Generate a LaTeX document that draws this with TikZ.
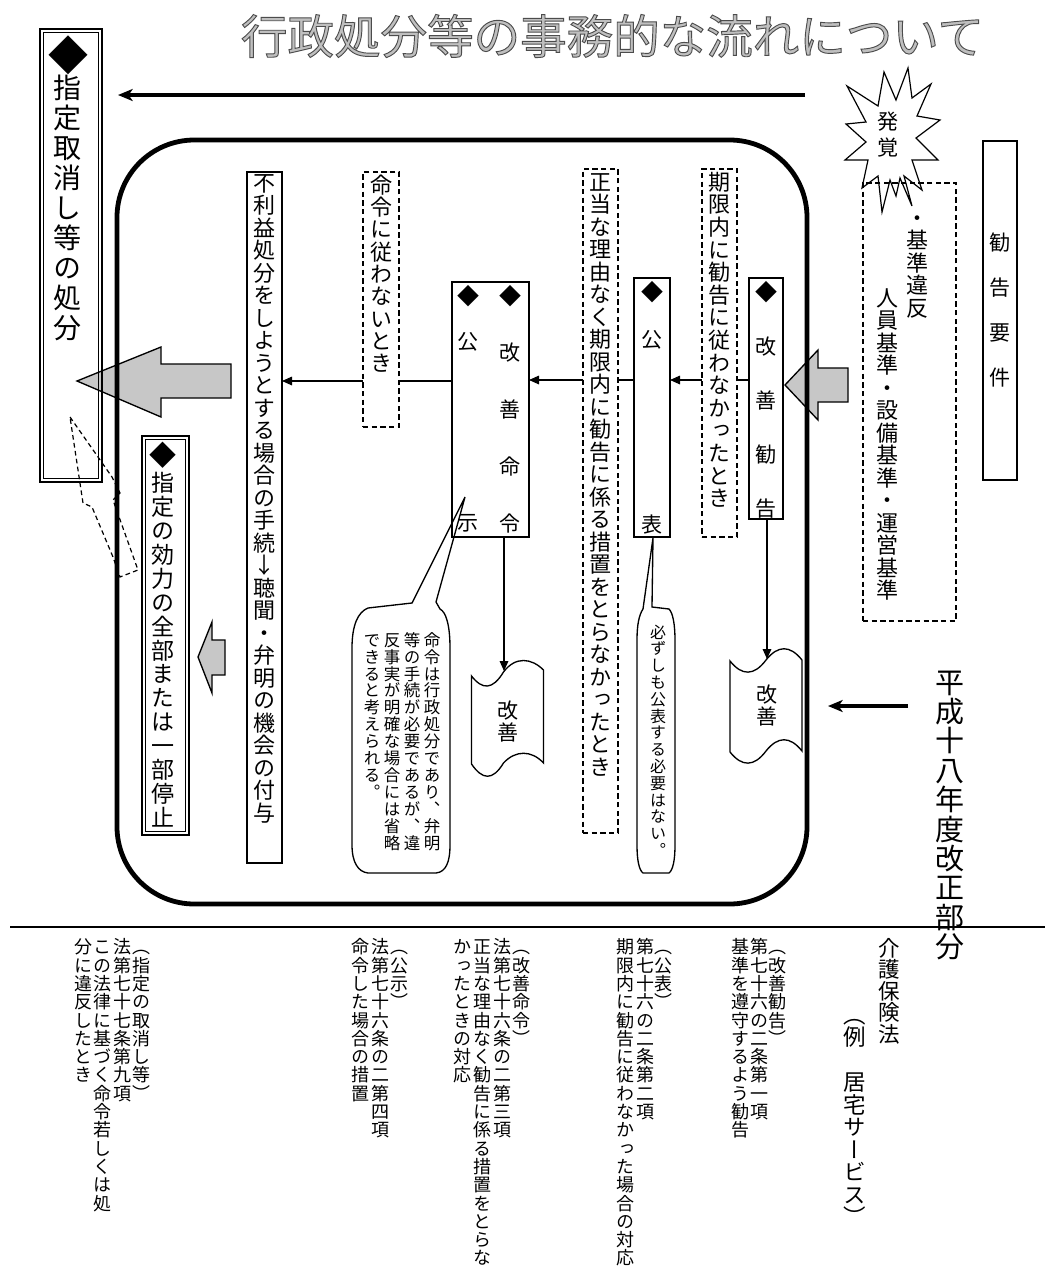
\documentclass[tikz,border=0pt]{standalone}
\usepackage{fontspec}
\usetikzlibrary{arrows.meta,fit}
\newfontfamily\jpv[RawFeature=+vert]{Noto Sans CJK JP}
\newfontfamily\jph{Noto Sans CJK JP}
\newlength\vtsp
\makeatletter
\def\vt@end{\vt@end}
\def\vt@loop#1{\ifx#1\vt@end\else\hbox to 1em{\vrule height .88em depth .12em width 0pt\hss#1\hss}\kern\vtsp\expandafter\vt@loop\fi}
\newcommand\vtbox[3]{{\jpv\fontsize{\fpeval{0.75*(#1)}}{\fpeval{0.75*(#1)}}\selectfont\vtsp=\dimexpr\fpeval{0.75*((#2)-(#1))}pt\relax\vbox{\offinterlineskip\vt@loop#3\vt@end}}}
\makeatother
\newcommand\VT[7][]{\node[inner sep=0pt,outer sep=0pt,anchor=north,#1] (#2) at ({#3},{#4-(#5)/2}) {\vtbox{#5}{#6}{#7}};}
\begin{document}
\begin{tikzpicture}[x=0.75pt,y=-0.75pt,
  box/.style={draw,line width=1.3pt,inner sep=0pt,outer sep=0pt},
  dbox/.style={draw,dash pattern=on 4pt off 2.5pt,line width=1.2pt,fill=white,inner sep=0pt,outer sep=0pt},
  obox/.style={draw,line width=0.8pt,inner sep=0pt,outer sep=0pt},
  conn/.style={line width=0.8pt,-{Triangle[length=7.5pt,width=6.5pt]}},
  bigarrow/.style={line width=2.4pt,-{Stealth[length=11pt,width=9pt,inset=3pt]}},
  block/.style={draw,line width=1pt,fill=black!22,line join=miter},
  shapeline/.style={line width=1pt},
  dashl/.style={line width=0.9pt,dash pattern=on 3.5pt off 2.5pt}]
\useasboundingbox (0,0) rectangle (1045,1268);
\fill[white] (0,0) rectangle (1045,1268);

% title
\node[font=\jph\fontsize{34.9}{34.9}\selectfont,text=black!25] (title) at (612.5,36)
  {\special{pdf:literal direct 2 Tr 0.7 w 0.3 G}行政処分等の事務的な流れについて\special{pdf:literal direct 0 Tr 0 G}};

% top arrow
\coordinate (topR) at (805,95);
\coordinate (topL) at (118,95);
\draw[bigarrow] (topR) -- (topL);

% block arrows
\draw[block] (77,381) -- (161,347) -- (161,364) -- (231,364) -- (231,398) -- (161,398) -- (161,417) -- cycle;
\draw[block] (785,385) -- (818,350) -- (818,368) -- (848,368) -- (848,402) -- (818,402) -- (818,420) -- cycle;
\draw[block] (198,657) -- (212,622) -- (212,640) -- (225,640) -- (225,675) -- (212,675) -- (212,693) -- cycle;

% frame
\draw[line width=3.6pt,rounded corners=58pt] (117,140) rectangle (807,904);

% double boxes
\node[obox,fit={(40,29) (102,482)}] (lbox) {};
\draw[line width=1.3pt] ([shift={(3.5,3.5)}]lbox.north west) rectangle ([shift={(-3.5,-3.5)}]lbox.south east);
\node[obox,fit={(142,436) (189,835)}] (stbox) {};
\draw[line width=1.3pt] ([shift={(3.5,3.5)}]stbox.north west) rectangle ([shift={(-3.5,-3.5)}]stbox.south east);

% solid boxes
\node[box,fit={(983,141) (1017,480)}] (kybox) {};
\node[box,fit={(749,278) (783,519)}] (kzk) {};
\node[box,fit={(634,278) (670,537)}] (koh) {};
\node[box,fit={(452,282) (529,537)}] (kzm) {};
\node[box,fit={(247,172) (282,863)}] (fri) {};

% tapes
\draw[shapeline,fill=white,shift={(766,706)}] (-36,-45) .. controls (-24,-30) and (-12,-30) .. (0,-46) .. controls (12,-61) and (24,-61) .. (36,-46) -- (36,45) .. controls (24,30) and (12,30) .. (0,45) .. controls (-12,61) and (-24,61) .. (-36,46) -- cycle;
\draw[shapeline,fill=white,shift={(507.5,720)}] (-36,-44) .. controls (-25,-30) and (-15,-30) .. (-4,-48) .. controls (8,-64) and (24,-62) .. (36,-50) -- (36,43) .. controls (24,30) and (8,30) .. (-4,43) .. controls (-15,61) and (-25,60) .. (-36,44) -- cycle;
\coordinate (t1top) at (767,659);
\coordinate (t2top) at (504,671);

% connectors
\coordinate (rowA) at (0,380);
\coordinate (rowB) at (0,381);
\draw[conn] (kzk.west |- rowA) -- (koh.east |- rowA);
\draw[conn] (koh.west |- rowA) -- (kzm.east |- rowA);
\draw[conn] (kzm.west |- rowB) -- (fri.east |- rowB);
\draw[conn] (kzk.south -| t1top) -- (t1top);
\draw[conn] (kzm.south -| t2top) -- (t2top);

% dashed boxes
\node[dbox,fit={(863,183) (956,621)}] (kijbox) {};
\node[dbox,fit={(702,169) (737,537)}] (kg) {};
\node[dbox,fit={(583,169) (618,833)}] (sd) {};
\node[dbox,fit={(363,172) (399,427)}] (ms) {};

% star
\draw[line width=0.9pt,line join=miter] (908,68) -- (912,98) -- (931,84) -- (917,116) -- (940,120) -- (916,138) -- (938,160) -- (912,160) -- (922,190) -- (904,176) -- (912,206) -- (900,178) -- (896,196) -- (890,180) -- (882,212) -- (878,176) -- (862,188) -- (868,160) -- (845,160) -- (866,142) -- (846,124) -- (866,122) -- (847,86) -- (878,106) -- (884,72) -- (896,100) -- cycle;

% callouts
\draw[shapeline] (653,538) -- (643,609) .. controls (639,615) and (637,625) .. (637,640) -- (637,845) .. controls (637,860) and (639,870) .. (643,873) -- (669,873) .. controls (673,870) and (675,860) .. (675,845) -- (675,640) .. controls (675,625) and (673,613) .. (669,609) -- (652,607) -- cycle;
\draw[shapeline] (465,497) -- (412,603) -- (368,608) .. controls (358,612) and (352,625) .. (352,648) -- (352,845) .. controls (352,862) and (358,872) .. (368,873) -- (436,873) .. controls (446,872) and (450,862) .. (450,845) -- (450,648) .. controls (450,625) and (446,612) .. (440,609) -- (436,602) -- cycle;

% lightning
\draw[dashl] (70,417) -- (112,477) -- (120,493) -- (113,500) -- (138,570) -- (120,577) -- (113,557) -- (92,507) -- (83,503) -- cycle;

% texts
\VT{kyT}{1000}{243}{21}{44.7}{勧告要件}
\VT{kijT1}{917}{218}{22}{22.5}{・基準違反}
\VT{kijT2}{887}{298}{22}{22.5}{人員基準・設備基準・運営基準}
\VT{hkT}{888}{122}{21}{26}{発覚}
\VT{kzkD}{766}{292}{22}{22}{◆}
\VT{kzkT}{766}{347}{21}{54}{改善勧告}
\VT{kgT}{719.5}{182}{22}{22.6}{期限内に勧告に従わなかったとき}
\VT{kohD}{652}{292}{22}{22}{◆}
\VT{kohA}{652}{340}{21}{21}{公}
\VT{kohB}{652}{525}{21}{21}{表}
\VT{sdT}{600.5}{182}{22}{22.5}{正当な理由なく期限内に勧告に係る措置をとらなかったとき}
\VT{kzmD1}{510}{296}{22}{22}{◆}
\VT{kzmT}{510}{353}{21}{57}{改善命令}
\VT{kzmD2}{468}{296}{22}{22}{◆}
\VT{kzmA}{468}{342}{21}{21}{公}
\VT{kzmB}{468}{523}{21}{21}{示}
\VT{msT}{381}{185}{22}{22.3}{命令に従わないとき}
\VT{friT}{264.5}{183}{22}{22.5}{不利益処分をしようとする場合の手続↓聴聞・弁明の機会の付与}
\VT{lbD}{68}{55}{40}{40}{◆}
\VT{lbT}{67}{88}{28}{30}{指定取消し等の処分}
\VT{stD}{163}{455}{27}{27}{◆}
\VT{stT}{163}{483}{23}{23.9}{指定の効力の全部または一部停止}
\VT{cb1}{658}{632}{16}{16.8}{必ずしも公表する必要はない。}
\VT{cb2a}{432}{640}{16.5}{16.9}{命令は行政処分であり、弁明}
\VT{cb2b}{412}{640}{16.5}{16.9}{等の手続が必要であるが、違}
\VT{cb2c}{392}{640}{16.5}{16.9}{反事実が明確な場合には省略}
\VT{cb2d}{372}{640}{16.5}{16.9}{できると考えられる。}
\VT{tp1}{767}{695}{21}{22}{改善}
\VT{tp2}{508}{711}{21}{22}{改善}

% rule and 平成 arrow
\coordinate (ruleL) at (10,927);
\coordinate (ruleR) at (1045,927);
\draw[line width=1.5pt] (ruleL) -- (ruleR);
\VT{hsT}{950}{682}{29}{29.4}{平成十八年度改正部分}
\coordinate (hsR) at (908,706);
\coordinate (hsL) at (828,706);
\draw[line width=2.6pt,-{Stealth[length=11pt,width=9pt,inset=3pt]}] (hsR) -- (hsL);

% bottom notes
\VT{n0a}{889}{948}{21.5}{21.5}{介護保険法}
\VT{n0b}{855}{1014.5}{22.5}{22.5}{（例　居宅サービス）}
\VT{n1a}{777}{947}{18}{18.3}{（改善勧告）}
\VT{n1b}{759}{947}{18}{18.3}{第七十六の二条第一項}
\VT{n1c}{740}{947}{18}{18.3}{基準を遵守するよう勧告}
\VT{n2a}{663}{947}{18}{18.3}{（公表）}
\VT{n2b}{645}{947}{18}{18.3}{第七十六の二条第二項}
\VT{n2c}{625}{947}{18}{18.3}{期限内に勧告に従わなかった場合の対応}
\VT{n3a}{521}{947}{18}{18.3}{（改善命令）}
\VT{n3b}{502}{947}{18}{18.3}{法第七十六条の二第三項}
\VT{n3c}{482}{947}{18}{18.3}{正当な理由なく勧告に係る措置をとらな}
\VT{n3d}{462}{947}{18}{18.3}{かったときの対応}
\VT{n4a}{399}{947}{18}{18.3}{（公示）}
\VT{n4b}{380}{947}{18}{18.3}{法第七十六条の二第四項}
\VT{n4c}{360}{947}{18}{18.3}{命令した場合の措置}
\VT{n5a}{141}{947}{18}{18.3}{（指定の取消し等）}
\VT{n5b}{122}{947}{18}{18.3}{法第七十七条第九項}
\VT{n5c}{102}{947}{18}{18.3}{この法律に基づく命令若しくは処}
\VT{n5d}{83}{947}{18}{18.3}{分に違反したとき}
\end{tikzpicture}
\end{document}
